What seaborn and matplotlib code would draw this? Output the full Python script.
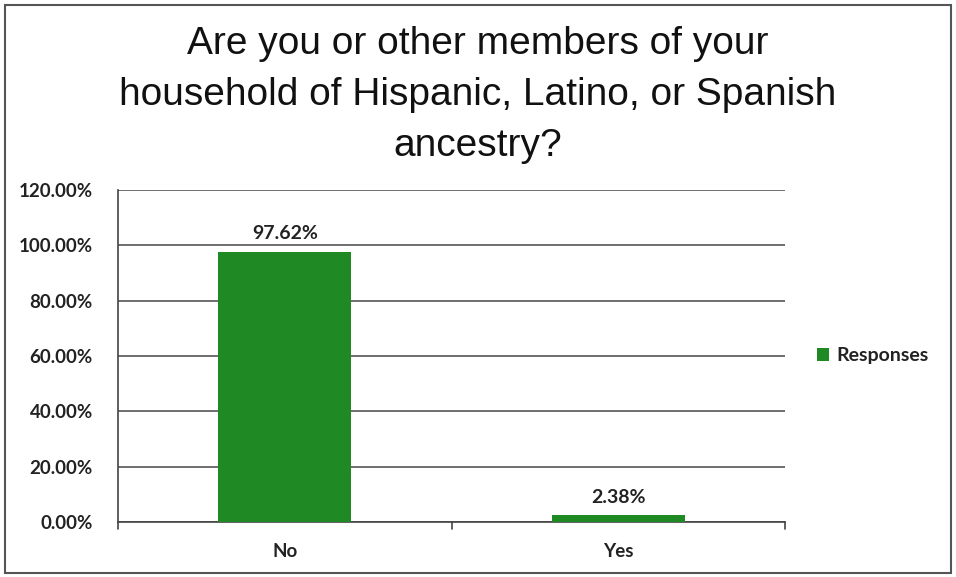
import matplotlib
matplotlib.use("Agg")
import matplotlib.pyplot as plt
import seaborn as sns
import pandas as pd
from matplotlib.patches import Rectangle
from matplotlib.ticker import FuncFormatter

categories = ["No", "Yes"]
responses = [97.62, 2.38]
series_name = "Responses"
title = "Are you or other members of your\nhousehold of Hispanic, Latino, or Spanish\nancestry?"

df = pd.DataFrame({"Answer": categories, "Percent": responses})

sns.set_theme(style="white")
plt.rcParams["font.family"] = ["Lato", "DejaVu Sans"]

fig = plt.figure(figsize=(9.56, 5.77), dpi=100)
ax = fig.add_axes([118 / 956, 1 - 522 / 577, (785 - 118) / 956, (522 - 190) / 577])

green = "#1f8a24"
sns.barplot(data=df, x="Answer", y="Percent", color=green, width=0.4,
            saturation=1, ax=ax, label=series_name, zorder=3, linewidth=0)

ax.set_ylim(0, 120)
ax.set_xlim(-0.5, 1.5)
ax.set_yticks(range(0, 121, 20))
ax.yaxis.set_major_formatter(FuncFormatter(lambda v, p: f"{v:.2f}%"))
ax.grid(axis="y", color="#555555", linewidth=1.2, zorder=0)
ax.set_xlabel("")
ax.set_ylabel("")

for s in ["top", "right"]:
    ax.spines[s].set_visible(False)
for s in ["left", "bottom"]:
    ax.spines[s].set_color("#444444")
    ax.spines[s].set_linewidth(1.2)

ax.tick_params(axis="y", length=6, width=1.2, color="#444444", direction="out",
               labelsize=13.5, pad=12)
ax.tick_params(axis="x", length=0, labelsize=13.5, pad=15)
for lbl in ax.get_yticklabels() + ax.get_xticklabels():
    lbl.set_fontweight("bold")
    lbl.set_color("#222222")

# boundary ticks between categories on the x axis
for xb in [-0.5, 0.5, 1.5]:
    ax.plot([xb, xb], [0, -2.5], color="#444444", lw=1.2, clip_on=False, zorder=4)

for i, v in enumerate(responses):
    ax.text(i, v + 3.5, f"{v:.2f}%", ha="center", va="bottom", fontsize=14,
            fontweight="bold", color="#222222")

leg = ax.legend(loc="center left", bbox_to_anchor=(1.022, 0.5), frameon=False,
                fontsize=14, handlelength=0.6, handleheight=0.6, handletextpad=0.4)
for t in leg.get_texts():
    t.set_fontweight("bold")
    t.set_color("#222222")

fig.text(0.5, 1 - 95 / 577, title, ha="center", va="center", fontsize=28,
         family=["Liberation Sans", "DejaVu Sans"], color="#111111", linespacing=1.55)

fig.patches.append(Rectangle((5 / 956, 4 / 577), 946 / 956, 568 / 577,
                             transform=fig.transFigure, fill=False,
                             edgecolor="#555555", linewidth=1.5))

fig.savefig("out.png", dpi=100)
